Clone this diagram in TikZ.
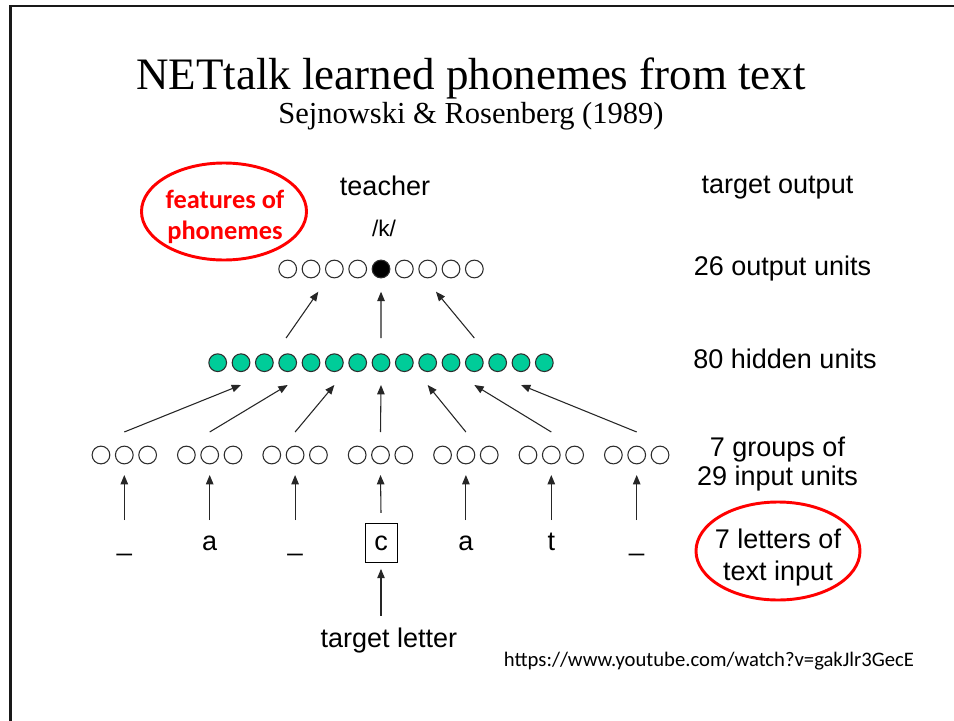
\documentclass[tikz,border=0pt]{standalone}
\usepackage{fontspec}
\setmainfont{Liberation Sans}
\newfontfamily\titlefont{Liberation Serif}
\newfontfamily\califont{Carlito}
\usetikzlibrary{arrows.meta,calc,shapes.geometric}
\definecolor{hidgreen}{RGB}{0,204,153}
\definecolor{ringred}{RGB}{255,0,0}
\definecolor{unitline}{RGB}{45,45,45}
\begin{document}
\begin{tikzpicture}[x=0.75pt,y=-0.75pt,
  unit/.style={circle,draw=unitline,line width=0.8pt,minimum size=13.3pt,inner sep=0pt,fill=white},
  hunit/.style={unit,fill=hidgreen},
  arr/.style={-{Triangle[length=7pt,width=5.6pt]},line width=0.8pt,black!85},
  lab/.style={font=\fontsize{20.25}{24}\selectfont,inner sep=0pt},
  ring/.style={ellipse,draw=ringred,line width=2.2pt,inner sep=0pt},
  redtxt/.style={font=\califont\bfseries\fontsize{19.8}{23.25}\selectfont,text=ringred,align=center,inner sep=0pt}
]
\useasboundingbox (0,0) rectangle (954,721);
\fill[white] (0,0) rectangle (954,721);
\draw[line width=1.6pt,black!90] (10.5,721) -- (10.5,6) -- (954,6);

% titles
\node[font=\titlefont\fontsize{33.75}{40}\selectfont,anchor=base,inner sep=0pt] (title) at (471,89) {NETtalk learned phonemes from text};
\node[font=\titlefont\fontsize{22.9}{27}\selectfont,anchor=base,inner sep=0pt] (sub) at (471,123) {Sejnowski \& Rosenberg (1989)};

% output units
\foreach \i in {1,...,9}{
  \ifnum\i=5 \def\ucol{black}\else\def\ucol{white}\fi
  \node[unit,fill=\ucol] (o\i) at ({287.7+(\i-1)*23.33},269) {};
}
% hidden units
\foreach \i in {1,...,15}
  \node[hunit] (h\i) at ({217.7+(\i-1)*23.33},362.7) {};
% input units
\foreach \g in {1,...,7}
  \foreach \k in {1,2,3}
    \node[unit] (i\g\k) at ({124.3+(\g-1)*85.4+(\k-2)*23.33},455) {};

% letters
\foreach \g/\t in {1/\_,2/a,3/\_,5/a,6/t,7/\_}
  \node[lab,anchor=base] (l\g) at ({124.3+(\g-1)*85.4},550) {\t};
\node[lab,anchor=base,draw,line width=0.75pt,minimum width=24pt,minimum height=29.25pt] (l4) at (381,550) {c};

% labels
\node[lab,anchor=base] (teacher) at (385,195) {teacher};
\node[lab,anchor=base,font=\fontsize{17}{20}\selectfont] (k) at (384,236) {/k/};
\node[lab,anchor=base] (tout) at (777.5,193.3) {target output};
\node[lab,anchor=base] (oun) at (782.5,275) {26 output units};
\node[lab,anchor=base] (hun) at (785,368.3) {80 hidden units};
\node[lab,align=center,font=\fontsize{20.25}{21.75}\selectfont] (iun) at (777.5,464.5) {7 groups of\\29 input units};
\node[lab,align=center,font=\fontsize{20.25}{24}\selectfont] (lin) at (778,557.2) {7 letters of\\text input};
\node[ring,minimum width=123pt,minimum height=73.5pt] (linring) at (778,551) {};
\node[lab,anchor=base] (tl) at (388.9,647) {target letter};
\node[redtxt] (fp) at (225,217) {features of\\phonemes};
\node[ring,minimum width=123.75pt,minimum height=72.75pt] (fpring) at (224,211.5) {};
\node[font=\califont\fontsize{15.5}{18}\selectfont,anchor=base,inner sep=0pt] (url) at (709,666) {https://www.youtube.com/watch?v=gakJlr3GecE};

% connectors: letters -> input
\foreach \g in {1,2,3,5,6,7}
  \draw[arr] ($(i\g2)+(0,65)$) -- ($(i\g2)+(0,20)$);
\draw[arr] ($(l4.north)+(0,-10)$) -- ($(i42)+(0,20)$);
\draw[arr] ($(l4.south)+(0,53)$) -- ($(l4.south)+(0,6)$);
% input -> hidden
\foreach \g/\h in {1/2,2/4,3/6,4/8,5/10,6/12,7/14}
  \draw[arr] ($(i\g2)+(0,-23)$) -- ($(h\h)+(0,22.3)$);
% hidden -> output
\draw[arr] ($(h4)+(-1.6,-24.7)$) -- ($(o2)+(7.3,22.7)$);
\draw[arr] ($(h8)+(0,-24.7)$) -- ($(o5)+(0,22.7)$);
\draw[arr] ($(h12)+(0,-24.7)$) -- ($(o7)+(8.3,22.7)$);
\end{tikzpicture}
\end{document}
